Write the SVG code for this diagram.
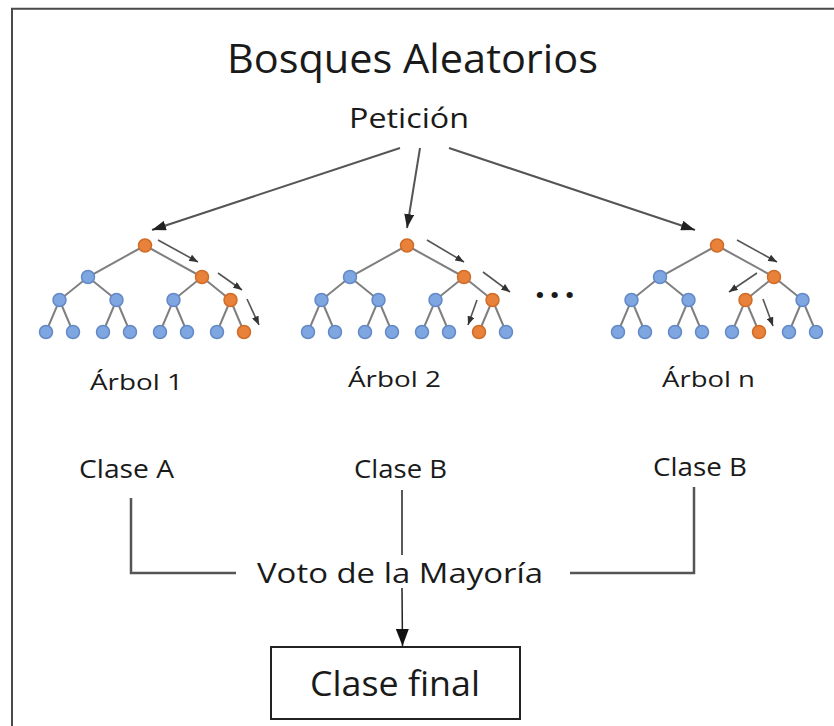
<svg xmlns="http://www.w3.org/2000/svg" xmlns:xlink="http://www.w3.org/1999/xlink" width="834" height="726" viewBox="0 0 834 726">
<defs>
<style>
text{font-family:"Open Sans","Noto Sans","Liberation Sans",sans-serif;fill:#1a1a1a;}
.edge{stroke:#7f7f7f;stroke-width:2;fill:none;}
.b{fill:#7ea6e0;stroke:#6489c6;stroke-width:1.5;}
.o{fill:#e8823a;stroke:#d06c28;stroke-width:1.5;}
.ta{stroke:#555;stroke-width:1.6;fill:none;marker-end:url(#sm);}
.pa{stroke:#555;stroke-width:2;fill:none;marker-end:url(#lg);}
.conn{stroke:#555;stroke-width:2.5;fill:none;}
</style>
<marker id="sm" viewBox="0 0 10 8" refX="10" refY="4" markerWidth="9" markerHeight="7" markerUnits="userSpaceOnUse" orient="auto"><path d="M0,0 L10,4 L0,8 Z" fill="#333"/></marker>
<marker id="lg" viewBox="0 0 14 10" refX="14" refY="5" markerWidth="14" markerHeight="10" markerUnits="userSpaceOnUse" orient="auto"><path d="M0,0 L14,5 L0,10 Z" fill="#222"/></marker>
<marker id="bk" viewBox="0 0 17 13" refX="17" refY="6.5" markerWidth="17" markerHeight="13" markerUnits="userSpaceOnUse" orient="auto"><path d="M0,0 L17,6.5 L0,13 Z" fill="#111"/></marker>
<g id="edges">
<path class="edge" d="M0,245.5 L-57,277 L-85.5,300 L-99,332 M-85.5,300 L-72,332 M-57,277 L-28.5,300 L-42,332 M-28.5,300 L-15,332 M0,245.5 L57,277 L28.5,300 L15,332 M28.5,300 L42,332 M57,277 L85.5,300 L72,332 M85.5,300 L99,332"/>
</g>
</defs>
<rect width="834" height="726" fill="#fff"/>
<path d="M12,726 V8.7 H834" stroke="#4a4a4a" stroke-width="2" fill="none"/>

<g id="title"><text x="412.5" y="72.5" font-size="40" text-anchor="middle" textLength="371" lengthAdjust="spacingAndGlyphs">Bosques Aleatorios</text></g>
<g id="peticion"><text x="409" y="128" font-size="28" text-anchor="middle" textLength="120" lengthAdjust="spacingAndGlyphs">Petición</text></g>

<g id="tree1" transform="translate(145,0)">
<use xlink:href="#edges"/>
<circle class="o" cx="0" cy="245.5" r="6.5"/>
<circle class="b" cx="-57" cy="277" r="6.5"/><circle class="o" cx="57" cy="277" r="6.5"/>
<circle class="b" cx="-85.5" cy="300" r="6.5"/><circle class="b" cx="-28.5" cy="300" r="6.5"/><circle class="b" cx="28.5" cy="300" r="6.5"/><circle class="o" cx="85.5" cy="300" r="6.5"/>
<circle class="b" cx="-99" cy="332" r="6.5"/><circle class="b" cx="-72" cy="332" r="6.5"/><circle class="b" cx="-42" cy="332" r="6.5"/><circle class="b" cx="-15" cy="332" r="6.5"/><circle class="b" cx="15" cy="332" r="6.5"/><circle class="b" cx="42" cy="332" r="6.5"/><circle class="b" cx="72" cy="332" r="6.5"/><circle class="o" cx="99" cy="332" r="6.5"/>
<line class="ta" x1="13" y1="240" x2="53" y2="262"/>
<line class="ta" x1="73" y1="273" x2="97" y2="290"/>
<line class="ta" x1="102" y1="299" x2="114" y2="325"/>
<text x="-8.5" y="390" font-size="21" text-anchor="middle" textLength="93" lengthAdjust="spacingAndGlyphs">Árbol 1</text>
</g>

<g id="tree2" transform="translate(407,0)">
<use xlink:href="#edges"/>
<circle class="o" cx="0" cy="245.5" r="6.5"/>
<circle class="b" cx="-57" cy="277" r="6.5"/><circle class="o" cx="57" cy="277" r="6.5"/>
<circle class="b" cx="-85.5" cy="300" r="6.5"/><circle class="b" cx="-28.5" cy="300" r="6.5"/><circle class="b" cx="28.5" cy="300" r="6.5"/><circle class="o" cx="85.5" cy="300" r="6.5"/>
<circle class="b" cx="-99" cy="332" r="6.5"/><circle class="b" cx="-72" cy="332" r="6.5"/><circle class="b" cx="-42" cy="332" r="6.5"/><circle class="b" cx="-15" cy="332" r="6.5"/><circle class="b" cx="15" cy="332" r="6.5"/><circle class="b" cx="42" cy="332" r="6.5"/><circle class="o" cx="72" cy="332" r="6.5"/><circle class="b" cx="99" cy="332" r="6.5"/>
<line class="ta" x1="20" y1="240" x2="57" y2="262"/>
<line class="ta" x1="76" y1="272" x2="103" y2="292"/>
<line class="ta" x1="70" y1="300" x2="61" y2="325"/>
<text x="-12.5" y="387" font-size="21" text-anchor="middle" textLength="93" lengthAdjust="spacingAndGlyphs">Árbol 2</text>
</g>

<g id="dots"><text x="557" y="298" font-size="36" font-weight="bold" text-anchor="middle" letter-spacing="4.5" fill="#222">...</text></g>

<g id="treen" transform="translate(717,0)">
<use xlink:href="#edges"/>
<circle class="o" cx="0" cy="245.5" r="6.5"/>
<circle class="b" cx="-57" cy="277" r="6.5"/><circle class="o" cx="57" cy="277" r="6.5"/>
<circle class="b" cx="-85.5" cy="300" r="6.5"/><circle class="b" cx="-28.5" cy="300" r="6.5"/><circle class="o" cx="28.5" cy="300" r="6.5"/><circle class="b" cx="85.5" cy="300" r="6.5"/>
<circle class="b" cx="-99" cy="332" r="6.5"/><circle class="b" cx="-72" cy="332" r="6.5"/><circle class="b" cx="-42" cy="332" r="6.5"/><circle class="b" cx="-15" cy="332" r="6.5"/><circle class="b" cx="15" cy="332" r="6.5"/><circle class="o" cx="42" cy="332" r="6.5"/><circle class="b" cx="72" cy="332" r="6.5"/><circle class="b" cx="99" cy="332" r="6.5"/>
<line class="ta" x1="20" y1="240" x2="60" y2="262"/>
<line class="ta" x1="40" y1="273" x2="12" y2="292"/>
<line class="ta" x1="46" y1="299" x2="56" y2="326"/>
<text x="-8.5" y="387" font-size="21" text-anchor="middle" textLength="93" lengthAdjust="spacingAndGlyphs">Árbol n</text>
</g>

<g id="claseA"><text x="126.5" y="478" font-size="25" text-anchor="middle" textLength="95" lengthAdjust="spacingAndGlyphs">Clase A</text></g>
<g id="claseB1"><text x="400.5" y="478" font-size="25" text-anchor="middle" textLength="93" lengthAdjust="spacingAndGlyphs">Clase B</text></g>
<g id="claseB2"><text x="700" y="476" font-size="25" text-anchor="middle" textLength="94" lengthAdjust="spacingAndGlyphs">Clase B</text></g>
<g id="voto"><text x="400" y="582.7" font-size="28" text-anchor="middle" textLength="286" lengthAdjust="spacingAndGlyphs">Voto de la Mayoría</text></g>
<g id="final">
<rect x="271" y="647" width="249" height="72" fill="#fff" stroke="#222" stroke-width="2"/>
<text x="395" y="696" font-size="35" text-anchor="middle" textLength="170" lengthAdjust="spacingAndGlyphs">Clase final</text>
</g>

<g id="connectors">
<line class="pa" x1="400" y1="148" x2="152" y2="230"/>
<line class="pa" x1="420" y1="148" x2="407" y2="228"/>
<line class="pa" x1="449" y1="148" x2="695" y2="230"/>
<path class="conn" d="M131,498 V573 H236"/>
<path class="conn" d="M694,487 V573 H570"/>
<line x1="402" y1="490" x2="402" y2="555" stroke="#222" stroke-width="1.5"/>
<line x1="402" y1="588" x2="402.5" y2="646" stroke="#222" stroke-width="1.5" marker-end="url(#bk)"/>
</g>
</svg>
